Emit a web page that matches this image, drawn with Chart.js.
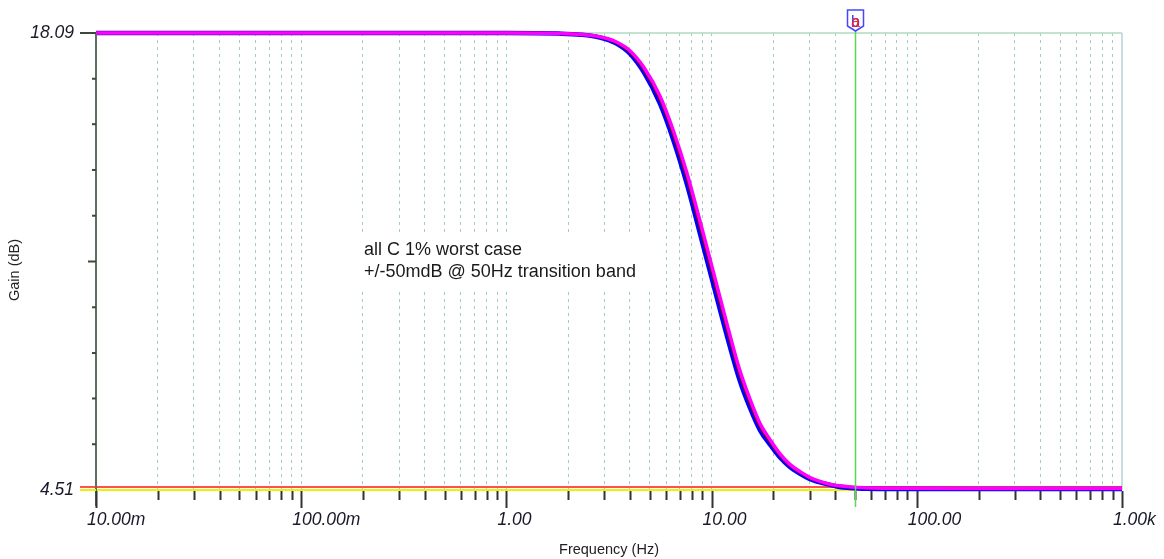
<!DOCTYPE html>
<html>
<head>
<meta charset="utf-8">
<script src="https://cdn.jsdelivr.net/npm/chart.js@4.4.1/dist/chart.umd.min.js"></script>
<style>
  html, body { margin: 0; padding: 0; background: #fff; }
  #wrap { width: 1164px; height: 559px; }
</style>
</head>
<body>
<div id="wrap"><canvas id="gainChart" width="1164" height="559"></canvas></div>
<script>
// --- data ---
const freqHz = [0.01, 0.1, 1, 1.8, 2.3, 2.85, 3.4, 4, 4.7, 5.6, 6.5, 7.6, 8.8, 10.2, 11.9, 13.7,
                15.4, 17.2, 19.3, 21.5, 24, 27, 30, 34, 38, 42, 47, 56, 83, 200, 1000];

// nominal trace (dark red), the high side (magenta) and the low side (blue)
const gainNominal = [18.09, 18.09, 18.09, 18.075, 18.045, 17.97, 17.82, 17.53, 16.99, 16.13, 15.09, 13.78, 12.33, 10.84, 9.29, 7.96,
                     7.10, 6.41, 5.94, 5.55, 5.25, 5.03, 4.87, 4.75, 4.67, 4.63, 4.60, 4.58, 4.56, 4.555, 4.555];
const gainHigh = [18.09, 18.09, 18.09, 18.076, 18.048, 17.978, 17.837, 17.565, 17.05, 16.22, 15.20, 13.91, 12.48, 10.99, 9.43, 8.08,
                  7.20, 6.49, 6.00, 5.59, 5.28, 5.055, 4.89, 4.76, 4.678, 4.635, 4.603, 4.58, 4.56, 4.555, 4.555];
const gainLow = [18.09, 18.09, 18.09, 18.073, 18.04, 17.958, 17.793, 17.476, 16.897, 15.99, 14.92, 13.57, 12.10, 10.61, 9.07, 7.77,
                 6.94, 6.29, 5.85, 5.48, 5.20, 4.99, 4.84, 4.73, 4.66, 4.60, 4.57, 4.545, 4.54, 4.54, 4.54];

const refFreq = [0.01, 1000];
const refRed = [4.60, 4.60];
const refYellow = [4.51, 4.51];

const markerFreq = 50;

const xTickValues = [
  0.01, 0.02, 0.03, 0.04, 0.05, 0.06, 0.07, 0.08, 0.09,
  0.1, 0.2, 0.3, 0.4, 0.5, 0.6, 0.7, 0.8, 0.9,
  1, 2, 3, 4, 5, 6, 7, 8, 9,
  10, 20, 30, 40, 50, 60, 70, 80, 90,
  100, 200, 300, 400, 500, 600, 700, 800, 900, 1000
];
const xDecades = [0.01, 0.1, 1, 10, 100, 1000];
const xDecadeLabels = ['10.00m', '100.00m', '1.00', '10.00', '100.00', '1.00k'];

const yTickValues = [4.51, 5.87, 7.23, 8.58, 9.94, 11.30, 12.66, 14.02, 15.38, 16.73, 18.09];
const yMin = 4.51, yMax = 18.09;

const noteLines = ['all C 1% worst case', '+/-50mdB @ 50Hz transition band'];
const yTitle = 'Gain (dB)';
const xTitle = 'Frequency (Hz)';

// --- helpers ---
const pts = (xs, ys) => xs.map((f, i) => ({ x: f, y: ys[i] }));
const isDecade = v => xDecades.some(d => Math.abs(d - v) / d < 1e-6);
const FONT = "'Liberation Sans', Arial, sans-serif";
const tickFont = { family: FONT, size: 17.5, style: 'italic' };

// extra drawing: frame, axis ticks, note box, cursor marker
const decor = {
  id: 'decor',
  beforeDatasetsDraw(chart) {
    const { ctx, chartArea: a } = chart;
    ctx.save();
    ctx.lineWidth = 1.5;
    ctx.strokeStyle = '#b2dac2';
    ctx.beginPath(); ctx.moveTo(a.left, a.top); ctx.lineTo(a.right, a.top); ctx.stroke();
    ctx.strokeStyle = '#b9cfda';
    ctx.beginPath(); ctx.moveTo(a.right, a.top); ctx.lineTo(a.right, a.bottom); ctx.stroke();

    // note box (white, hides the grid)
    ctx.fillStyle = '#fff';
    ctx.fillRect(357, 234, 298, 56);
    ctx.fillStyle = '#1a1a1a';
    ctx.font = '18px ' + FONT;
    ctx.textBaseline = 'alphabetic';
    ctx.fillText(noteLines[0], 364, 255);
    ctx.fillText(noteLines[1], 364, 277);

    // y axis title
    ctx.save();
    ctx.translate(15, 270);
    ctx.rotate(-Math.PI / 2);
    ctx.font = '14.5px ' + FONT;
    ctx.fillStyle = '#222';
    ctx.textAlign = 'center';
    ctx.textBaseline = 'middle';
    ctx.fillText(yTitle, 0, 0);
    ctx.restore();
    ctx.restore();
  },
  afterDatasetsDraw(chart) {
    const { ctx, chartArea: a, scales: { x, y } } = chart;
    ctx.save();

    // stub of the red trace left of the axis
    ctx.lineWidth = 2;
    ctx.strokeStyle = '#ff5050';
    const py = y.getPixelForValue(refRed[0]);
    ctx.beginPath(); ctx.moveTo(a.left - 16, py); ctx.lineTo(a.left, py); ctx.stroke();

    // y axis line + ticks
    ctx.strokeStyle = '#5d705f';
    ctx.beginPath(); ctx.moveTo(a.left, a.top); ctx.lineTo(a.left, a.bottom + 16); ctx.stroke();
    yTickValues.forEach((v, i) => {
      const p = y.getPixelForValue(v);
      let len = 4;
      if (i === 0 || i === yTickValues.length - 1) len = 16;
      else if (i === 5) len = 8;
      ctx.strokeStyle = i === 0 ? '#f0f000' : '#3b4a3d';
      ctx.beginPath(); ctx.moveTo(a.left - len, p); ctx.lineTo(a.left, p); ctx.stroke();
    });

    // x ticks
    ctx.strokeStyle = '#333';
    xTickValues.forEach(v => {
      const p = Math.round(x.getPixelForValue(v)) + 0.5;
      const len = isDecade(v) ? 17 : 9;
      ctx.beginPath(); ctx.moveTo(p, a.bottom + 1); ctx.lineTo(p, a.bottom + 1 + len); ctx.stroke();
    });

    // cursor at 50 Hz
    const mx = Math.round(x.getPixelForValue(markerFreq)) + 0.5;
    ctx.strokeStyle = '#5ad65a';
    ctx.lineWidth = 1.5;
    ctx.beginPath(); ctx.moveTo(mx, a.top - 2); ctx.lineTo(mx, a.bottom + 17); ctx.stroke();

    ctx.fillStyle = '#fff';
    ctx.strokeStyle = '#4646ff';
    ctx.lineWidth = 1.5;
    ctx.beginPath();
    ctx.moveTo(mx - 8, 10); ctx.lineTo(mx + 8, 10); ctx.lineTo(mx + 8, 26);
    ctx.lineTo(mx, 31); ctx.lineTo(mx - 8, 26); ctx.closePath();
    ctx.fill(); ctx.stroke();
    ctx.font = '16px ' + FONT;
    ctx.textAlign = 'center';
    ctx.textBaseline = 'alphabetic';
    ctx.fillStyle = '#3030ff';
    ctx.fillText('b', mx, 27);
    ctx.fillStyle = '#ff2020';
    ctx.fillText('a', mx, 27);
    ctx.restore();
  }
};

const ctx = document.getElementById('gainChart').getContext('2d');
new Chart(ctx, {
  type: 'line',
  data: {
    datasets: [
      { data: pts(freqHz, gainHigh), borderColor: '#ff00ff', borderWidth: 3.5 },
      { data: pts(freqHz, gainNominal), borderColor: '#8a0000', borderWidth: 3 },
      { data: pts(freqHz, gainLow), borderColor: '#0000ff', borderWidth: 4.5 },
      { data: pts(refFreq, refRed), borderColor: '#ff5050', borderWidth: 2 },
      { data: pts(refFreq, refYellow), borderColor: '#f0f000', borderWidth: 2 }
    ]
  },
  options: {
    responsive: false,
    animation: false,
    devicePixelRatio: 1,
    layout: { padding: { top: 33, right: 42, left: 0, bottom: 0 } },
    plugins: { legend: { display: false }, tooltip: { enabled: false } },
    datasets: { line: { clip: false } },
    elements: {
      point: { radius: 0 },
      line: { cubicInterpolationMode: 'monotone', fill: false }
    },
    scales: {
      x: {
        type: 'logarithmic',
        min: 0.01,
        max: 1000,
        afterBuildTicks: s => { s.ticks = xTickValues.map(v => ({ value: v })); },
        afterFit: s => { s.height = 69; s.paddingLeft = 0; s.paddingRight = 0; },
        grid: {
          drawTicks: false,
          lineWidth: 1,
          color: c => (c.tick && (c.tick.value === 0.01 || c.tick.value === 1000)) ? 'rgba(0,0,0,0)' : '#a4cfba'
        },
        border: { display: false, dash: [3, 4] },
        ticks: {
          autoSkip: false,
          maxRotation: 0,
          align: 'start',
          labelOffset: -9,
          padding: 20,
          color: '#1a1a2a',
          font: tickFont,
          callback: v => {
            const i = xDecades.findIndex(d => Math.abs(d - v) / d < 1e-6);
            return i >= 0 ? xDecadeLabels[i] : '';
          }
        },
        title: {
          display: true,
          text: xTitle,
          color: '#222',
          font: { family: FONT, size: 14.5 },
          padding: { top: 3, bottom: 0 }
        }
      },
      y: {
        type: 'linear',
        min: yMin,
        max: yMax,
        afterBuildTicks: s => { s.ticks = yTickValues.map(v => ({ value: v })); },
        afterFit: s => { s.width = 96; s.paddingTop = 0; s.paddingBottom = 0; },
        grid: { display: false, drawTicks: false },
        border: { display: false },
        ticks: {
          autoSkip: false,
          padding: 22,
          color: '#1a1a2a',
          font: tickFont,
          callback: (v, i, arr) => (i === 0 || i === arr.length - 1) ? v.toFixed(2) : ''
        },
        title: { display: false }
      }
    }
  },
  plugins: [decor]
});
</script>
</body>
</html>
